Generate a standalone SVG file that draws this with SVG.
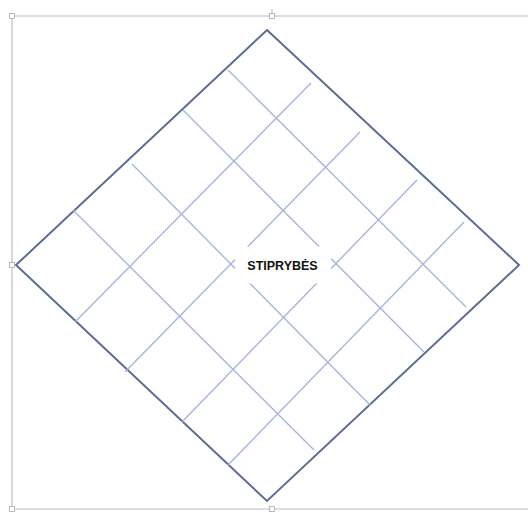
<svg xmlns="http://www.w3.org/2000/svg" width="528" height="512" viewBox="0 0 528 512">
<style>
.frame{fill:none;stroke:#bdbdbd;stroke-width:1.2}
.handle{fill:#fff;stroke:#a8a8a8;stroke-width:0.8}
.outline{fill:none;stroke:#5b6e92;stroke-width:2}
.grid{stroke:#a7b5de;stroke-width:1.4;fill:none}
.label{font-family:"Liberation Sans",Arial,sans-serif;font-weight:bold;font-size:12.5px;fill:#111}
</style>
<rect width="528" height="512" fill="#fff"/>
<g id="frame">
<path class="frame" d="M12 16 H528 M12 16 V509 M12 509 H528"/>
<line x1="272" y1="9" x2="272" y2="14" stroke="#bdbdbd" stroke-width="1"/>
<rect class="handle" x="9.5" y="13.5" width="5" height="5"/>
<rect class="handle" x="269.5" y="13.5" width="5" height="5"/>
<rect class="handle" x="9.5" y="262.5" width="5" height="5"/>
<rect class="handle" x="9.5" y="506.5" width="5" height="5"/>
<rect class="handle" x="269.5" y="506.5" width="5" height="5"/>
</g>
<g id="diamond">
<polygon class="outline" points="267,30 519,265 267,501 16,265"/>
</g>
<g id="connectors">
<line class="grid" x1="75" y1="322" x2="311" y2="83"/>
<line class="grid" x1="125" y1="372" x2="360" y2="132"/>
<line class="grid" x1="182" y1="422" x2="417" y2="180"/>
<line class="grid" x1="228" y1="465" x2="464" y2="222"/>
<line class="grid" x1="73" y1="210" x2="314" y2="450"/>
<line class="grid" x1="132" y1="164" x2="370" y2="405"/>
<line class="grid" x1="183" y1="110" x2="424" y2="352"/>
<line class="grid" x1="228" y1="70" x2="466" y2="307"/>
</g>
<g id="center-label">
<rect x="235" y="246.5" width="96" height="37" fill="#fff"/>
<text class="label" x="282.5" y="269.5" text-anchor="middle">STIPRYBĖS</text>
</g>
</svg>
